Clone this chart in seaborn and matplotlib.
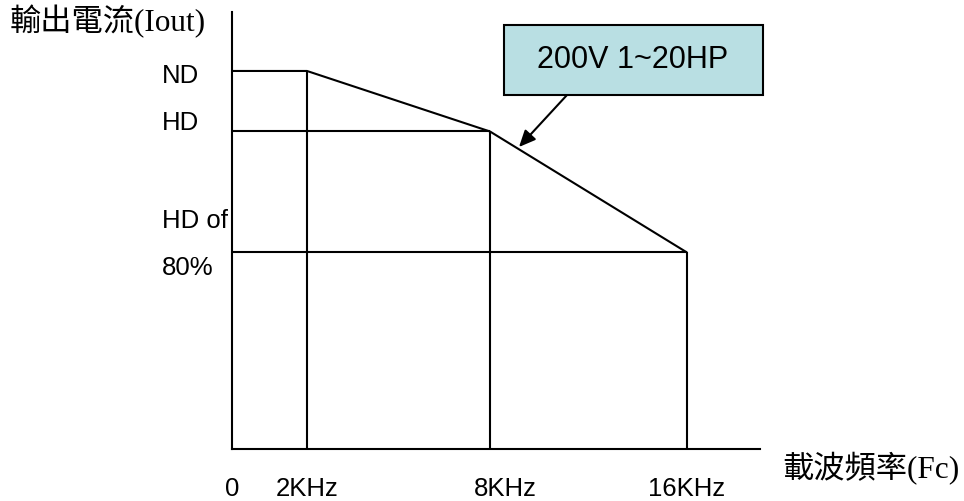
import numpy as np
import pandas as pd
import seaborn as sns
from matplotlib import pyplot as plt
from matplotlib import transforms
from matplotlib.patches import Rectangle

# schematic derating curve (current in % of ND)
freq_khz = [0, 2, 8, 16]
current_pct = [100, 100, 84, 52]
freq_labels = ["0", "2KHz", "8KHz", "16KHz"]

# reference levels drawn as horizontal guides
level_values = [84, 52]
level_freqs = [8, 16]

box_text = "200V 1~20HP"

sns.set_style("white")
plt.rcParams["font.family"] = ["Liberation Sans", "Noto Sans CJK TC"]
plt.rcParams["text.color"] = "black"
cjk_serif = ["Liberation Serif", "Noto Sans CJK TC"]

fig = plt.figure(figsize=(9.64, 5.01), dpi=100)
ax = fig.add_axes([232 / 964, 52 / 501, 528 / 964, 437 / 501])

# the drawing is not to scale on x: piecewise mapping of the tick frequencies
knots = [0, 2, 8, 16, 24]
spots = [0, 75, 258, 455, 650]
ax.set_xscale("function", functions=(lambda x: np.interp(x, knots, spots),
                                     lambda x: np.interp(x, spots, knots)))

df = pd.DataFrame({"freq": freq_khz, "current": current_pct})
sns.lineplot(data=df, x="freq", y="current", ax=ax, color="black", lw=1.5)

ax.hlines(level_values, 0, level_freqs, color="black", lw=1.5)
ax.vlines(freq_khz[1:], 0, current_pct[1:], color="black", lw=1.5)

ax.set_xlim(0, 19)
ax.set_ylim(0, 115.6)
ax.set_xlabel("")
ax.set_ylabel("")
sns.despine(ax=ax)
for side in ["left", "bottom"]:
    ax.spines[side].set_color("black")
    ax.spines[side].set_linewidth(1.5)

ax.set_xticks(freq_khz, freq_labels)
ax.set_yticks([])
ax.tick_params(axis="x", length=0, pad=20, labelsize=18.5, colors="black")
# the 8KHz label sits a little right of its line in the original
shift = transforms.ScaledTranslation(15 / 100, 0, fig.dpi_scale_trans)
lbl = ax.get_xticklabels()[2]
lbl.set_transform(lbl.get_transform() + shift)

# level labels on the left
lab = dict(xycoords="data", textcoords="offset pixels", ha="left", va="center",
           fontsize=18.5, color="black")
ax.annotate("ND", (0, current_pct[0]), xytext=(-70, -5), **lab)
ax.annotate("HD", (0, level_values[0]), xytext=(-70, 8), **lab)
ax.annotate("HD of", (0, level_values[1]), xytext=(-70, 31), **lab)
ax.annotate("80%", (0, level_values[1]), xytext=(-70, -16), **lab)

fig.text(10 / 964, 1 - 22 / 501, "輸出電流(Iout)", ha="left", va="center",
         fontsize=22.5, family=cjk_serif)
fig.text(782 / 964, 1 - 469 / 501, "載波頻率(Fc)", ha="left", va="center",
         fontsize=22.5, family=cjk_serif)

# callout box with arrow
fig.patches.append(Rectangle((504 / 964, 1 - 95 / 501), 259 / 964, 70 / 501,
                             transform=fig.transFigure, facecolor="#B9DFE3",
                             edgecolor="black", lw=1.5))
fig.text(633 / 964, 1 - 60 / 501, box_text, ha="center", va="center", fontsize=22)
ax.annotate("", xy=(519, 501 - 147), xycoords="figure pixels",
            xytext=(567, 501 - 95), textcoords="figure pixels",
            arrowprops=dict(arrowstyle="-|>,head_length=1.0,head_width=0.45",
                            color="black", lw=1.5, shrinkA=0, shrinkB=0))

fig.savefig("out.png", dpi=100)
